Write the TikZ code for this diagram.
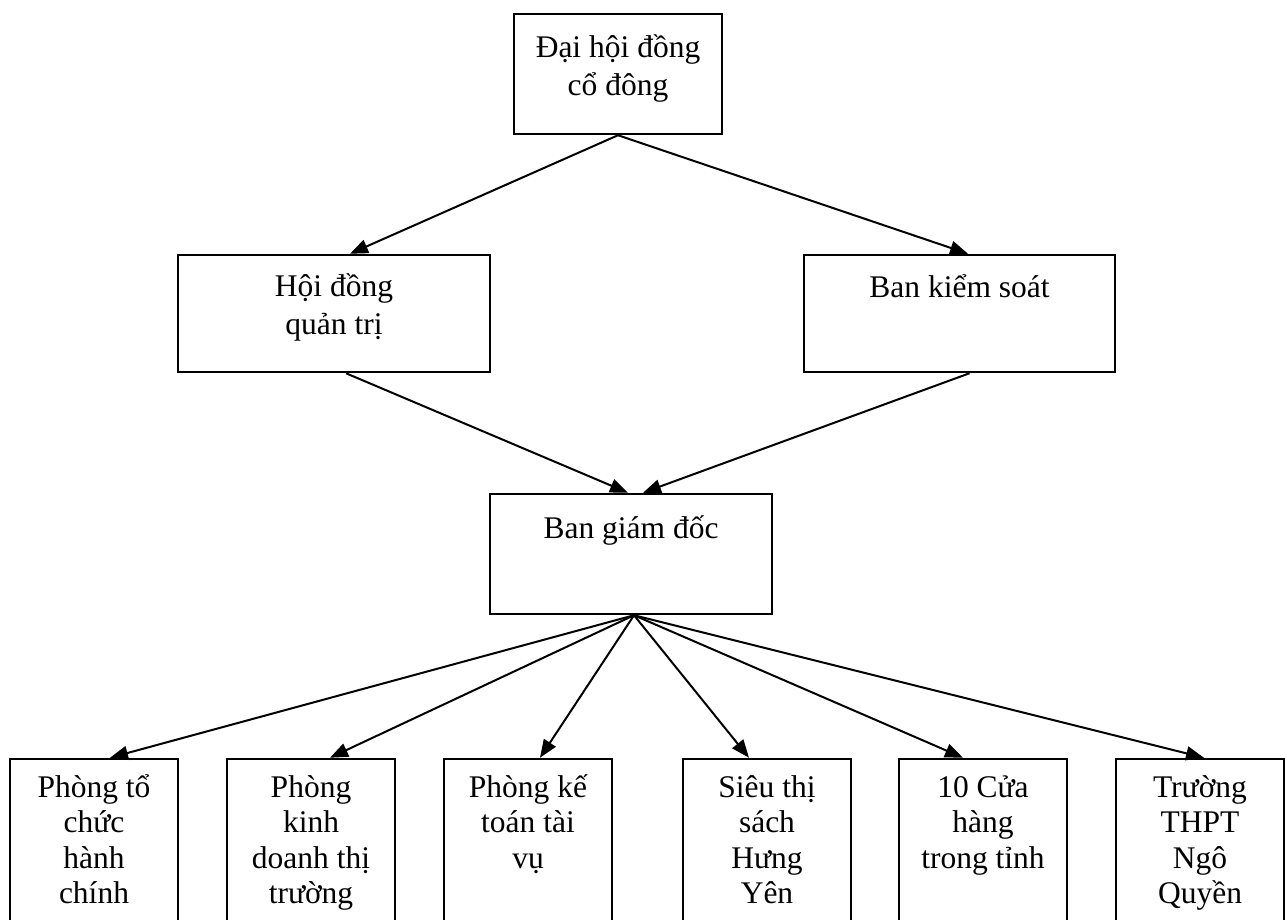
\documentclass[tikz,border=0pt]{standalone}
\usepackage{fontspec}
\setmainfont{Liberation Serif}
\usetikzlibrary{arrows.meta}
\newcommand\mlines[2][35.5pt]{\vtop{\lineskiplimit=-100pt\relax\baselineskip=#1\halign{\hfil##\hfil\cr#2\crcr}}}
\tikzset{
  box/.style={draw, line width=2.5pt, inner sep=0pt, fill=none},
  txt/.style={anchor=base, inner sep=0pt, font=\fontsize{31.5}{36}\selectfont},
  arr/.style={line width=2pt, -{Triangle[length=18pt,width=14pt]}}
}
\begin{document}
\begin{tikzpicture}[x=1pt,y=-1pt]
\useasboundingbox[fill=white] (0,0) rectangle (1285,920);
% boxes
\node[box, minimum width=208pt, minimum height=120pt] (dhcd) at (618,74) {};
\node[box, minimum width=312pt, minimum height=117pt] (hdqt) at (334,313.5) {};
\node[box, minimum width=311pt, minimum height=117pt] (bks) at (959.5,313.5) {};
\node[box, minimum width=282pt, minimum height=120pt] (bgd) at (631,554) {};
\node[box, minimum width=168pt, minimum height=200pt] (p1) at (94,859) {};
\node[box, minimum width=168pt, minimum height=200pt] (p2) at (311,859) {};
\node[box, minimum width=168pt, minimum height=200pt] (p3) at (528,859) {};
\node[box, minimum width=168pt, minimum height=200pt] (p4) at (767,859) {};
\node[box, minimum width=168pt, minimum height=200pt] (p5) at (983,859) {};
\node[box, minimum width=168pt, minimum height=200pt] (p6) at (1200,859) {};
% texts
\node[txt] (dhcd-t) at (618,58) {\mlines[38pt]{Đại hội đồng\cr cổ đông}};
\node[txt] (hdqt-t) at (334,296) {\mlines[38pt]{Hội đồng\cr quản trị}};
\node[txt] (bks-t) at (959.5,297) {Ban kiểm soát};
\node[txt] (bgd-t) at (631,538) {Ban giám đốc};
\node[txt] (p1-t) at (94,797) {\mlines{Phòng tổ\cr chức\cr hành\cr chính}};
\node[txt] (p2-t) at (311,797) {\mlines{Phòng\cr kinh\cr doanh thị\cr trường}};
\node[txt] (p3-t) at (528,797) {\mlines{Phòng kế\cr toán tài\cr vụ}};
\node[txt] (p4-t) at (767,797) {\mlines{Siêu thị\cr sách\cr Hưng\cr Yên}};
\node[txt] (p5-t) at (983,797) {\mlines{10 Cửa\cr hàng\cr trong tỉnh}};
\node[txt] (p6-t) at (1200,797) {\mlines{Trường\cr THPT\cr Ngô\cr Quyền}};
% connectors
\draw[arr] (dhcd.south) -- ([xshift=16pt]hdqt.north);
\draw[arr] (dhcd.south) -- ([xshift=8.5pt]bks.north);
\draw[arr] ([xshift=12pt]hdqt.south) -- ([xshift=-3pt]bgd.north);
\draw[arr] ([xshift=10pt]bks.south) -- ([xshift=12pt]bgd.north);
\draw[arr] ([xshift=3pt]bgd.south) -- ([xshift=16pt]p1.north);
\draw[arr] ([xshift=3pt]bgd.south) -- ([xshift=19pt]p2.north);
\draw[arr] ([xshift=3pt]bgd.south) -- ([xshift=12pt]p3.north);
\draw[arr] ([xshift=3pt]bgd.south) -- ([xshift=-18pt]p4.north);
\draw[arr] ([xshift=3pt]bgd.south) -- ([xshift=-20pt]p5.north);
\draw[arr] ([xshift=3pt]bgd.south) -- ([xshift=4pt]p6.north);
\end{tikzpicture}
\end{document}
